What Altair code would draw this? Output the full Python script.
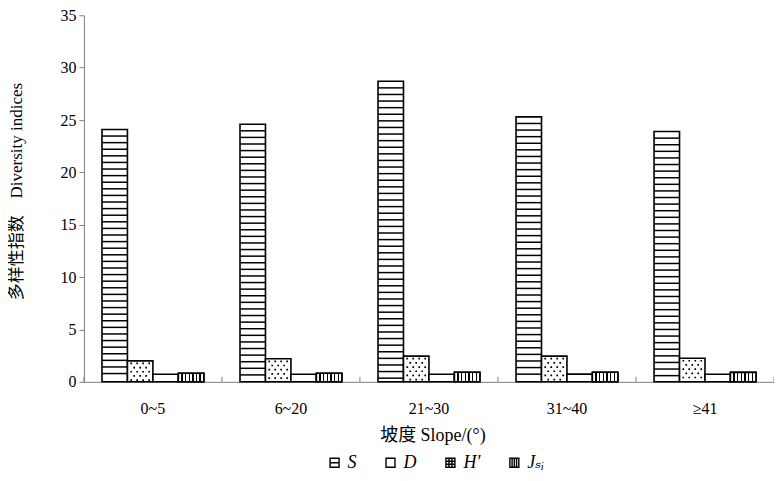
import altair as alt
import pandas as pd

# ---- data ----
slopes = ["0~5", "6~20", "21~30", "31~40", "≥41"]
S_vals = [24.1, 24.6, 28.7, 25.3, 23.9]
H_vals = [2.0, 2.2, 2.45, 2.45, 2.25]
D_vals = [0.72, 0.72, 0.72, 0.73, 0.72]
J_vals = [0.82, 0.82, 0.92, 0.92, 0.90]

series_legend = ["S", "D", "H′", "Jₛᵢ"]
series_bars = ["S", "H′", "D", "Jₛᵢ"]

values = {"S": S_vals, "H′": H_vals, "D": D_vals, "Jₛᵢ": J_vals}

rows = []
for s in series_bars:
    for sl, v in zip(slopes, values[s]):
        rows.append({"slope": sl, "index": s, "value": v})
df = pd.DataFrame(rows)

# hatch lines for S bars (derived from S values)
stripe_step = 0.63
srows = []
for sl, v in zip(slopes, S_vals):
    k = 1
    while v - k * stripe_step > 0.3:
        srows.append({"slope": sl, "index": "S", "value": v - k * stripe_step})
        k += 1
stripes = pd.DataFrame(srows)

# dot rows for H′ bars (derived from H′ values)
dot_step = 0.40
drows = []
for sl, v in zip(slopes, H_vals):
    k = 0
    while v - (k + 0.6) * dot_step > 0.12:
        drows.append({"slope": sl, "index": "H′", "value": v - (k + 0.6) * dot_step, "par": k % 2})
        k += 1
dots = pd.DataFrame(drows)

FONT = "'Times New Roman', 'Liberation Serif', 'DejaVu Serif', 'Noto Sans CJK SC', serif"
GREY = "#808080"
H = 367

x_enc = alt.X(
    "slope:N",
    scale=alt.Scale(domain=slopes, paddingInner=0, paddingOuter=0),
    axis=alt.Axis(
        title="坡度 Slope/(°)", ticks=False, labelAngle=0, labelPadding=19,
        domainColor=GREY, labelFont=FONT, labelFontSize=16, labelColor="black",
        titleFont=FONT, titleFontSize=18, titleFontWeight="normal", titleColor="black",
        titleX=349, titleY=54, titleBaseline="middle",
    ),
)
xo_enc = alt.XOffset("index:N", scale=alt.Scale(domain=series_bars, paddingInner=0, paddingOuter=0.71))
y_enc = alt.Y(
    "value:Q",
    scale=alt.Scale(domain=[0, 35], nice=False),
    axis=alt.Axis(
        values=list(range(0, 36, 5)), title="多样性指数　Diversity indices", grid=False,
        tickSize=5, tickColor=GREY, domainColor=GREY, labelPadding=3,
        labelFont=FONT, labelFontSize=16, labelColor="black",
        titleFont=FONT, titleFontSize=17, titleFontWeight="normal", titleColor="black",
        titleX=-67, titleY=176, titleBaseline="middle", titleAlign="center",
    ),
)

bars = alt.Chart(df).mark_bar(fill="white", stroke="black", strokeWidth=1.6).encode(
    x=x_enc, xOffset=xo_enc, y=y_enc
)

# vertical hatch gradient for J bars
hw = 0.028
stops = [{"offset": 0, "color": "white"}]
for i in range(1, 7):
    p = i / 7
    stops += [
        {"offset": p - hw, "color": "white"},
        {"offset": p - hw, "color": "black"},
        {"offset": p + hw, "color": "black"},
        {"offset": p + hw, "color": "white"},
    ]
stops.append({"offset": 1, "color": "white"})
grad = {"gradient": "linear", "x1": 0, "y1": 0, "x2": 1, "y2": 0, "stops": stops}

jbars = alt.Chart(df).transform_filter(alt.datum.index == "Jₛᵢ").mark_bar(
    fill=grad, stroke="black", strokeWidth=1.6
).encode(x="slope:N", xOffset="index:N", y="value:Q")

hatch = alt.Chart(stripes).mark_tick(color="black", thickness=1.5, size=25, opacity=1).encode(
    x="slope:N", xOffset="index:N", y="value:Q"
)


def dot_row(xs, r=0.85):
    return " ".join(f"M{x - r:.2f},{-r:.2f}h{2 * r:.2f}v{2 * r:.2f}h{-2 * r:.2f}Z" for x in xs)


dot_layers = []
for par, offs in [(0, [-9, -3, 3, 9]), (1, [-6, 0, 6])]:
    dot_layers.append(
        alt.Chart(dots).transform_filter(alt.datum.par == par)
        .mark_point(shape=dot_row(offs), size=4, filled=True, color="black", opacity=1, strokeWidth=0)
        .encode(x="slope:N", xOffset="index:N", y="value:Q")
    )

slope_df = pd.DataFrame({"slope": slopes})
xticks = alt.Chart(slope_df).mark_rule(color=GREY, strokeWidth=1).encode(
    x=alt.X("slope:N", bandPosition=0), y=alt.value(H), y2=alt.value(H - 5)
)
xtick_end = alt.Chart(slope_df).transform_filter(alt.datum.slope == slopes[-1]).mark_rule(
    color=GREY, strokeWidth=1
).encode(x=alt.X("slope:N", bandPosition=1), y=alt.value(H), y2=alt.value(H - 5))

paths = [
    "M-1,-1H1V1H-1Z M-1,0H1",
    "M-1,-1H1V1H-1Z",
    "M-1,-1H1V1H-1Z M-1,-0.33H1 M-1,0.33H1 M-0.33,-1V1 M0.33,-1V1",
    "M-1,-1H1V1H-1Z M-0.5,-1V1 M0,-1V1 M0.5,-1V1",
]
legend_layer = alt.Chart(df).mark_point(color="black", opacity=0, filled=False).encode(
    x="slope:N", xOffset="index:N", y="value:Q",
    shape=alt.Shape(
        "index:N",
        scale=alt.Scale(domain=series_legend, range=paths),
        legend=alt.Legend(
            title=None, orient="none", legendX=242, legendY=439, direction="horizontal",
            symbolSize=81, symbolStrokeColor="black", symbolStrokeWidth=1.4,
            symbolOpacity=1, symbolFillColor="white",
            labelFont=FONT, labelFontSize=18, labelFontStyle="italic", labelColor="black",
            labelOffset=4, columnPadding=25, padding=0,
        ),
    ),
)

chart = alt.layer(
    bars, jbars, hatch, *dot_layers, xticks, xtick_end, legend_layer
).properties(
    width=691, height=H,
    autosize=alt.AutoSizeParams(type="none"),
    padding={"left": 76, "top": 7, "right": 0, "bottom": 95},
    background="white",
).configure_view(stroke=None)

chart.save("out.html", embed_options={"renderer": "svg", "actions": False})
